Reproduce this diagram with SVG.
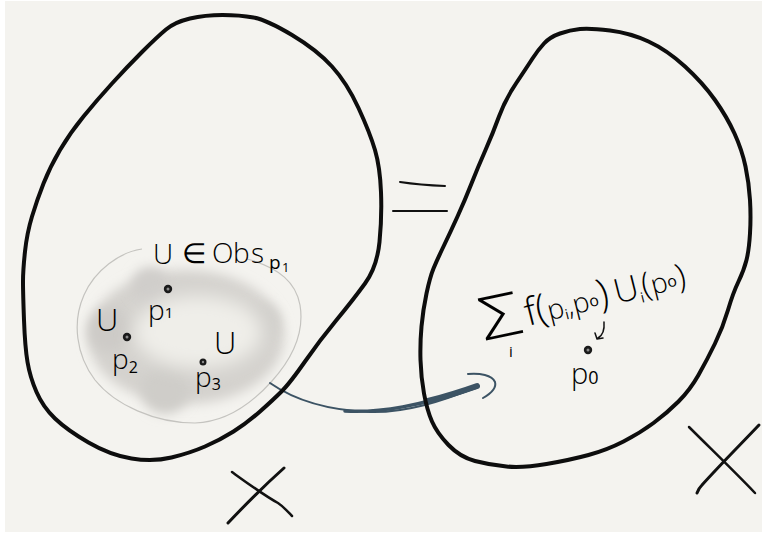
<svg xmlns="http://www.w3.org/2000/svg" width="764" height="534" viewBox="0 0 764 534">
<defs>
<filter id="blur6" x="-30%" y="-30%" width="160%" height="160%"><feGaussianBlur stdDeviation="6"/></filter>
<filter id="blur9" x="-40%" y="-40%" width="180%" height="180%"><feGaussianBlur stdDeviation="9"/></filter>
<style>
.blob{fill:none;stroke:#0d0d0d;stroke-width:4;stroke-linejoin:round}
.ink{fill:none;stroke:#111;stroke-linecap:round;stroke-linejoin:round}
.arr{fill:none;stroke:#3c5364;stroke-linecap:round;stroke-linejoin:round}
.hw{font-family:"Open Sans","DejaVu Sans",sans-serif;font-weight:300;fill:#000}
.sub{font-weight:400}
.dot{fill:#1a1a1a}
.dotc{fill:#8a8a8a}
</style>
</defs>
<rect x="0" y="0" width="764" height="534" fill="#ffffff"/>
<rect x="5" y="1" width="757" height="531" fill="#f4f3ef"/>

<g id="cloud">
<ellipse cx="186" cy="337" rx="98" ry="67" fill="#d4d2ce" filter="url(#blur6)"/>
<circle cx="110" cy="330" r="22" fill="#cdcbc7" filter="url(#blur6)"/>
<circle cx="165" cy="390" r="24" fill="#cfcdc9" filter="url(#blur6)"/>
<circle cx="150" cy="285" r="18" fill="#d0cecb" filter="url(#blur6)"/>
<circle cx="262" cy="322" r="18" fill="#d2d0cc" filter="url(#blur6)"/>
<ellipse cx="198" cy="332" rx="64" ry="36" fill="#efeee9" filter="url(#blur9)"/>
<path d="M142,249 C120,252 95,270 84,295 C72,322 76,355 95,380 C115,405 155,423 195,423 C230,422 255,400 272,381 C290,361 305,335 300,305 C296,283 280,268 247,259" fill="none" stroke="#c4c3bf" stroke-width="1.2"/>
</g>

<g id="connectors">
<path class="arr" stroke-width="2" d="M270,383 C290,397 320,410 370,412 C405,413 440,402 477,387"/>
<path class="arr" stroke-width="3.5" d="M345,411 C380,413 420,406 477,387"/>
<path class="arr" stroke-width="6" d="M428,401 C447,396 463,391 477,386"/>
<path class="arr" stroke-width="2" d="M468,374 C480,373 492,375 495,382 C497,389 490,394 483,398"/>
</g>

<g id="space-left">
<path class="blob" d="M222.5,15 Q240,15 253.5,17.5 Q267,20 292,35 Q317,50 332,66.5 Q347,83 358.5,108 Q370,133 375,150 Q380,167 381,192 Q382,217 379.5,242 Q377,267 365,283.5 Q353,300 336.5,320 Q320,340 305,361.5 Q290,383 281.5,391.5 Q273,400 260,411.5 Q247,423 233.5,431.5 Q220,440 205,446.5 Q190,453 171.5,457.5 Q153,462 131.5,458.5 Q110,455 88.5,442.5 Q67,430 55,418.5 Q43,407 36.5,392 Q30,377 27.5,362 Q25,347 24,320 Q23,293 23,281.5 Q23,270 25,251.5 Q27,233 32,216.5 Q37,200 43.5,183.5 Q50,167 60,150 Q70,133 83.5,116.5 Q97,100 112,83.5 Q127,67 142,52 Q157,37 166,29.5 Q175,22 190,18.5 Q205,15 222.5,15 Z"/>
<text class="hw" font-size="28"><tspan x="153" y="264">U</tspan><tspan x="182" y="263">∈</tspan><tspan x="212" y="263">O</tspan><tspan x="233" y="263">b</tspan><tspan x="251" y="263">s</tspan><tspan class="sub" x="269" y="269" font-size="19">p</tspan><tspan class="sub" x="282" y="272" font-size="13">1</tspan></text>
<circle class="dot" cx="168" cy="289" r="4.2"/><circle class="dotc" cx="168" cy="289" r="1.5"/>
<text class="hw" font-size="28" x="148" y="320">p<tspan class="sub" font-size="15" dy="-2">1</tspan></text>
<text class="hw" font-size="31" x="96" y="331">U</text>
<circle class="dot" cx="127" cy="337" r="4.2"/><circle class="dotc" cx="127" cy="337" r="1.5"/>
<text class="hw" font-size="28" x="112" y="369">p<tspan class="sub" font-size="16" dy="4">2</tspan></text>
<text class="hw" font-size="31" x="214" y="354">U</text>
<circle class="dot" cx="203" cy="362" r="3.5"/><circle class="dotc" cx="203" cy="362" r="1.2"/>
<text class="hw" font-size="28" x="195" y="387">p<tspan class="sub" font-size="16" dy="3">3</tspan></text>
<path class="ink" stroke-width="2.5" d="M232,472 C250,485 265,496 278,503 C284,507 288,512 292,516"/>
<path class="ink" stroke-width="3" d="M228,523 C245,505 265,485 284,468"/>
</g>

<g id="equals">
<path class="ink" stroke-width="2" d="M400,182 Q420,185 445,186"/>
<path class="ink" stroke-width="2" d="M393,211 L447,211"/>
</g>

<g id="space-right">
<path class="blob" d="M610,30.5 Q630,33 648.5,41.5 Q667,50 685,66.5 Q703,83 715,100 Q727,117 734.5,133.5 Q742,150 745.5,166.5 Q749,183 750,200 Q751,217 750,233.5 Q749,250 746.5,260 Q744,270 738.5,281.5 Q733,293 728,310 Q723,327 715,343.5 Q707,360 698.5,375 Q690,390 678.5,401.5 Q667,413 653.5,423 Q640,433 623.5,441.5 Q607,450 588.5,455 Q570,460 546.5,464 Q523,468 506.5,466.5 Q490,465 475,461 Q460,457 448.5,445 Q437,433 432,421.5 Q427,410 424,393.5 Q421,377 420.5,360 Q420,343 421.5,326.5 Q423,310 426.5,293.5 Q430,277 433.5,268.5 Q437,260 443.5,246.5 Q450,233 457.5,216.5 Q465,200 471.5,183.5 Q478,167 485.5,150 Q493,133 499,116.5 Q505,100 516,83.5 Q527,67 532.5,58.5 Q538,50 544,43.5 Q550,37 560,33.5 Q570,30 580,29 Q590,28 610,30.5 Z"/>
<text class="hw" font-size="60" transform="translate(484,341) rotate(-12) scale(1.25,1)">Σ</text>
<text class="hw sub" font-size="15" x="509" y="357">i</text>
<g transform="translate(528,326) rotate(-14)">
<text class="hw" font-size="28" x="0" y="0"><tspan font-size="38">f</tspan><tspan font-size="40">(</tspan>p<tspan class="sub" font-size="14" dy="3">i</tspan><tspan dy="-3">,p</tspan><tspan class="sub" font-size="16" dy="-3">o</tspan><tspan font-size="40" dy="3">)</tspan><tspan dx="6" font-size="34">U</tspan><tspan class="sub" font-size="14" dy="5">i</tspan><tspan font-size="34" dy="-5">(</tspan>p<tspan class="sub" font-size="16" dy="-3">o</tspan><tspan font-size="34" dy="3">)</tspan></text>
</g>
<path class="ink" stroke-width="1.5" d="M604,322 Q605,334 598,338 M595,333 L597,339 L603,338"/>
<circle class="dot" cx="588" cy="350" r="4.2"/><circle class="dotc" cx="588" cy="350" r="1.5"/>
<text class="hw" font-size="29" x="571" y="384">p<tspan class="sub" font-size="18">0</tspan></text>
<path class="ink" stroke-width="2.5" d="M689,427 C710,448 735,472 755,493"/>
<path class="ink" stroke-width="3" d="M697,493 C698,490 699,488 702,485 C720,465 740,445 759,425"/>
</g>
</svg>
